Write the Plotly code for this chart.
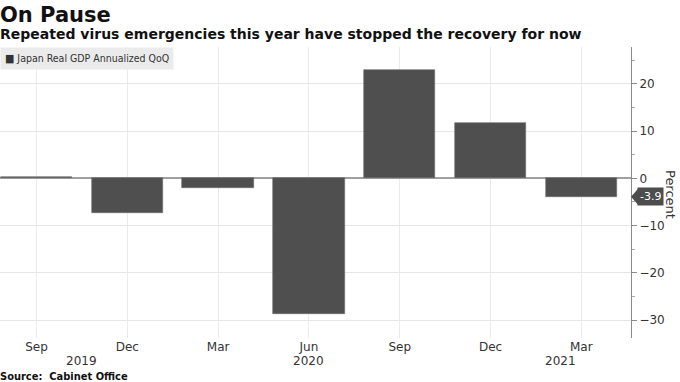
import plotly.graph_objects as go

# ---- data ----
quarters = ["Sep", "Dec", "Mar", "Jun", "Sep", "Dec", "Mar"]
years = ["2019", "2020", "2021"]
gdp_qoq = [0.2, -7.4, -2.0, -28.7, 23.0, 11.7, -3.9]
series_name = "Japan Real GDP Annualized QoQ"

FONT = "DejaVu Sans"
COND = "DejaVu Sans Condensed"
BAR = "#4f4f4f"

idx = list(range(len(gdp_qoq)))

fig = go.Figure()
fig.add_trace(go.Bar(
    x=idx, y=gdp_qoq, width=0.787,
    marker=dict(color=BAR, line=dict(color="#6a6a6a", width=0.6)),
    name=series_name, showlegend=False,
))

# plot area geometry: plot y from 47 to 338 (291 px)
H = 291.0

annotations = [
    dict(text="<b>On Pause</b>", xref="paper", yref="paper", x=0, y=(338 - 15) / H,
         xanchor="left", yanchor="middle", showarrow=False, xshift=-2,
         font=dict(family=FONT, size=21, color="#111")),
    dict(text="<b>Repeated virus emergencies this year have stopped the recovery for now</b>",
         xref="paper", yref="paper", x=0, y=(338 - 34) / H,
         xanchor="left", yanchor="middle", showarrow=False, xshift=-2,
         font=dict(family=FONT, size=14, color="#111")),
    dict(text="<b>Source:  Cabinet Office</b>", xref="paper", yref="paper", x=0, y=(338 - 376) / H,
         xanchor="left", yanchor="middle", showarrow=False, xshift=-2,
         font=dict(family=COND, size=11, color="#111")),
    dict(text="<span style='font-size:11px'>■</span> " + series_name, xref="paper", yref="paper",
         x=0, y=1, xanchor="left", yanchor="top", showarrow=False,
         bgcolor="#ebebeb", borderpad=4, xshift=0,
         font=dict(family=COND, size=10.5, color="#333")),
    dict(text="Percent", xref="paper", yref="paper", x=(671) / 631.0, y=(338 - 194) / H,
         xanchor="center", yanchor="middle", showarrow=False, textangle=90,
         font=dict(family=FONT, size=13, color="#333")),
    dict(text=f"{gdp_qoq[-1]:.1f}", xref="paper", yref="y", x=1, y=gdp_qoq[-1],
         xanchor="left", yanchor="middle", showarrow=False, xshift=6,
         bgcolor="#4d4d4d", borderpad=2,
         font=dict(family=FONT, size=11, color="white")),
]

# year labels under the month ticks
year_pos = [0.5, 3.0, 5.77]
for yr, px in zip(years, year_pos):
    annotations.append(dict(text=yr, xref="x", yref="paper", x=px, y=(338 - 361) / H,
                            xanchor="center", yanchor="middle", showarrow=False,
                            font=dict(family=FONT, size=12, color="#333")))

shapes = [
    dict(type="path", xref="paper", yref="y", xsizemode="pixel", ysizemode="pixel",
         xanchor=1, yanchor=gdp_qoq[-1],
         path="M 0 0 L 7 8 L 7 -8 Z", fillcolor="#4d4d4d", line=dict(width=0)),
]

fig.update_layout(
    width=680, height=382,
    margin=dict(l=0, r=49, t=47, b=44),
    paper_bgcolor="white", plot_bgcolor="white",
    bargap=0,
    annotations=annotations,
    shapes=shapes,
    xaxis=dict(
        range=[-0.402, 6.547], tickmode="array", tickvals=idx, ticktext=quarters,
        showgrid=True, gridcolor="#ebebeb", gridwidth=1,
        zeroline=False, showline=False, ticks="",
        tickfont=dict(family=FONT, size=12, color="#333"),
    ),
    yaxis=dict(
        side="right", range=[-33.8, 27.8], dtick=10, tick0=0,
        showgrid=True, gridcolor="#e6e6e6", gridwidth=1,
        zeroline=True, zerolinecolor="#a0a0a0", zerolinewidth=1.5,
        showline=True, linecolor="#8a8a8a", linewidth=1,
        ticks="outside", ticklen=5, tickcolor="#8a8a8a",
        minor=dict(dtick=5, ticks="outside", ticklen=3, tickcolor="#aaaaaa", showgrid=False),
        tickfont=dict(family=FONT, size=12, color="#333"),
    ),
)

fig.write_html("out.html", config={"displayModeBar": False},
               post_script="document.body.style.margin='0';")
